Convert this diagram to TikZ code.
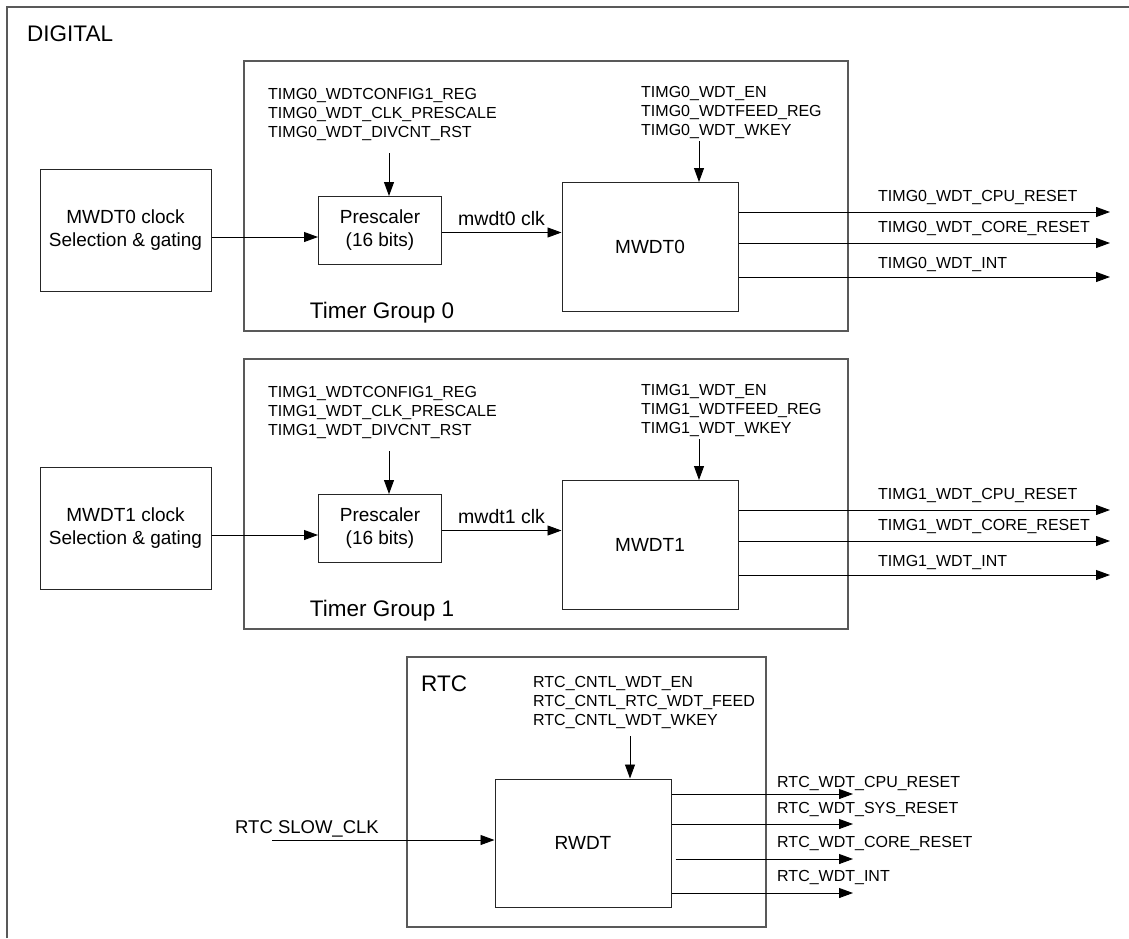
\documentclass[tikz,border=0pt]{standalone}
\usepackage{fontspec}
\setmainfont{Liberation Sans}
\usetikzlibrary{arrows.meta}

\begin{document}
\begin{tikzpicture}[
  x=1pt, y=-1pt,
  frame/.style={draw=black!65, line width=1.4pt},
  box/.style={draw=black!85, line width=1pt, align=center, inner sep=0pt,
    font=\fontsize{19}{23}\selectfont},
  regs/.style={anchor=north west, align=left, inner sep=0pt, font=\fontsize{16}{19}\selectfont},
  sig/.style={anchor=base west, inner sep=0pt, font=\fontsize{16}{19}\selectfont},
  clk/.style={anchor=base west, inner sep=0pt, font=\fontsize{19.5}{23}\selectfont},
  title/.style={anchor=base, inner sep=0pt, font=\fontsize{22.5}{26}\selectfont},
  arrow/.style={-{Triangle[length=14pt,width=10pt]}, line width=0.9pt}]
  \useasboundingbox (0,0) rectangle (1129,938);
  % Digital frame (cut off at right and bottom)
  \draw[frame] (7,938) -- (7,7) -- (1129,7);
  \node[title, anchor=base west] (dig) at (27,41) {DIGITAL};
  % Timer Group 0
  \draw[frame] (244,61) rectangle (848,331);
  \node[title] (tg0) at (382,318) {Timer Group 0};
  \node[box, minimum width=171pt, minimum height=122pt] (clk0) at (125.5,230) {MWDT0 clock\\Selection \& gating};
  \node[box, minimum width=123pt, minimum height=68pt] (pre0) at (380,230.5) {Prescaler\\(16 bits)};
  \node[box, minimum width=176pt, minimum height=129pt] (mw0) at (650,247) {MWDT0};
  \node[regs] (preg0) at (268,88.5) {TIMG0\_WDTCONFIG1\_REG\\TIMG0\_WDT\_CLK\_PRESCALE\\TIMG0\_WDT\_DIVCNT\_RST};
  \node[regs] (mreg0) at (641,86.5) {TIMG0\_WDT\_EN\\TIMG0\_WDTFEED\_REG\\TIMG0\_WDT\_WKEY};
  \node[clk] (ck0) at (458,225) {mwdt0 clk};
  \draw[arrow] ([yshift=-7pt]clk0.east) -- ([yshift=-7pt]clk0.east -| pre0.west);
  \draw[arrow] ([yshift=-2pt]pre0.east) -- ([yshift=-2pt]pre0.east -| mw0.west);
  \draw[arrow] ([xshift=9pt,yshift=-12pt]pre0.north |- preg0.south) -- ([xshift=9pt]pre0.north);
  \draw[arrow] ([xshift=49pt,yshift=-2pt]mw0.north |- mreg0.south) -- ([xshift=49pt]mw0.north);
  \coordinate (cpu0) at (1110,212);
  \coordinate (core0) at (1110,243);
  \coordinate (int0) at (1110,277);
  \draw[arrow] (mw0.east |- cpu0) -- (cpu0);
  \draw[arrow] (mw0.east |- core0) -- (core0);
  \draw[arrow] (mw0.east |- int0) -- (int0);
  \node[sig] (cpu0l) at (878,201) {TIMG0\_WDT\_CPU\_RESET};
  \node[sig] (core0l) at (878,232.5) {TIMG0\_WDT\_CORE\_RESET};
  \node[sig] (int0l) at (878,268) {TIMG0\_WDT\_INT};
  % Timer Group 1
  \draw[frame] (244,359) rectangle (848,629);
  \node[title] (tg1) at (382,616) {Timer Group 1};
  \node[box, minimum width=171pt, minimum height=122pt] (clk1) at (125.5,528) {MWDT1 clock\\Selection \& gating};
  \node[box, minimum width=123pt, minimum height=68pt] (pre1) at (380,528.5) {Prescaler\\(16 bits)};
  \node[box, minimum width=176pt, minimum height=129pt] (mw1) at (650,545) {MWDT1};
  \node[regs] (preg1) at (268,386.5) {TIMG1\_WDTCONFIG1\_REG\\TIMG1\_WDT\_CLK\_PRESCALE\\TIMG1\_WDT\_DIVCNT\_RST};
  \node[regs] (mreg1) at (641,384.5) {TIMG1\_WDT\_EN\\TIMG1\_WDTFEED\_REG\\TIMG1\_WDT\_WKEY};
  \node[clk] (ck1) at (458,523) {mwdt1 clk};
  \draw[arrow] ([yshift=-7pt]clk1.east) -- ([yshift=-7pt]clk1.east -| pre1.west);
  \draw[arrow] ([yshift=-2pt]pre1.east) -- ([yshift=-2pt]pre1.east -| mw1.west);
  \draw[arrow] ([xshift=9pt,yshift=-12pt]pre1.north |- preg1.south) -- ([xshift=9pt]pre1.north);
  \draw[arrow] ([xshift=49pt,yshift=-2pt]mw1.north |- mreg1.south) -- ([xshift=49pt]mw1.north);
  \coordinate (cpu1) at (1110,510);
  \coordinate (core1) at (1110,541);
  \coordinate (int1) at (1110,575);
  \draw[arrow] (mw1.east |- cpu1) -- (cpu1);
  \draw[arrow] (mw1.east |- core1) -- (core1);
  \draw[arrow] (mw1.east |- int1) -- (int1);
  \node[sig] (cpu1l) at (878,499) {TIMG1\_WDT\_CPU\_RESET};
  \node[sig] (core1l) at (878,530.5) {TIMG1\_WDT\_CORE\_RESET};
  \node[sig] (int1l) at (878,566) {TIMG1\_WDT\_INT};
  % RTC
  \draw[frame] (407,657) rectangle (766,927);
  \node[title, anchor=base west] (rtc) at (421,691) {RTC};
  \node[box, minimum width=176pt, minimum height=128pt] (rwdt) at (583,843) {RWDT};
  \node[regs] (rreg) at (533,676.5) {RTC\_CNTL\_WDT\_EN\\RTC\_CNTL\_RTC\_WDT\_FEED\\RTC\_CNTL\_WDT\_WKEY};
  \draw[arrow] ([xshift=47pt,yshift=-7pt]rwdt.north |- rreg.south) -- ([xshift=47pt]rwdt.north);
  \coordinate (slow) at (272,840);
  \node[clk, font=\fontsize{18.5}{22}\selectfont] (slowl) at (235,833) {RTC SLOW\_CLK};
  \draw[arrow] (slow) -- (slow -| rwdt.west);
  \coordinate (rcpu) at (853,794);
  \coordinate (rsys) at (853,824);
  \coordinate (rcore) at (853,859);
  \coordinate (rint) at (853,893);
  \draw[arrow] (rwdt.east |- rcpu) -- (rcpu);
  \draw[arrow] (rwdt.east |- rsys) -- (rsys);
  \draw[arrow] ([xshift=4pt]rwdt.east |- rcore) -- (rcore);
  \draw[arrow] (rwdt.east |- rint) -- (rint);
  \node[sig] (rcpul) at (777,787) {RTC\_WDT\_CPU\_RESET};
  \node[sig] (rsysl) at (777,813) {RTC\_WDT\_SYS\_RESET};
  \node[sig] (rcorel) at (777,847) {RTC\_WDT\_CORE\_RESET};
  \node[sig] (rintl) at (777,881.5) {RTC\_WDT\_INT};
\end{tikzpicture}
\end{document}
